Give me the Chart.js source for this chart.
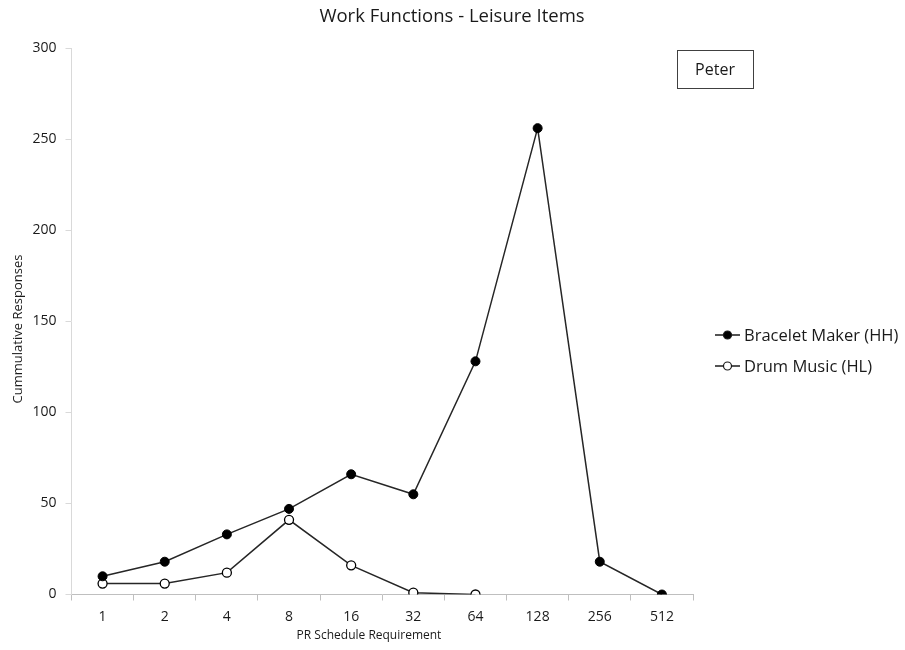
<!DOCTYPE html>
<html>
<head>
<meta charset="utf-8">
<script src="https://cdn.jsdelivr.net/npm/chart.js@4"></script>
<style>
  html, body { margin: 0; padding: 0; background: #fff; }
  #wrap { position: relative; width: 905px; height: 650px; }
</style>
</head>
<body>
<div id="wrap"><canvas id="chart" width="905" height="650"></canvas></div>
<script>
// ---- data ----
const schedule = ['1', '2', '4', '8', '16', '32', '64', '128', '256', '512'];
const braceletMaker = [10, 18, 33, 47, 66, 55, 128, 256, 18, 0];
const drumMusic = [6, 6, 12, 41, 16, 1, 0, null, null, null];
const yTicks = [0, 50, 100, 150, 200, 250, 300];

const FONT = "'Open Sans', sans-serif";
const INK = '#1a1a1a';

// title, axis titles, "Peter" box and marker legend drawn on the canvas
const extras = {
  id: 'extras',
  afterDraw(chart) {
    const c = chart.ctx;
    c.save();
    c.fillStyle = INK;
    c.textBaseline = 'middle';

    c.font = '18.5px ' + FONT;
    c.textAlign = 'center';
    c.fillText('Work Functions - Leisure Items', 452, 17);

    // axis titles (Excel centres these a bit off the plot centre)
    c.font = '12px ' + FONT;
    c.fillText('PR Schedule Requirement', 369, 636);
    c.save();
    c.translate(18, 329);
    c.rotate(-Math.PI / 2);
    c.font = '13px ' + FONT;
    c.fillText('Cummulative Responses', 0, 0);
    c.restore();

    // name box
    c.strokeStyle = '#404040';
    c.lineWidth = 1;
    c.strokeRect(677.5, 50.5, 76, 38);
    c.font = '16px ' + FONT;
    c.fillText('Peter', 715, 70);

    // legend
    const rows = [
      { label: 'Bracelet Maker (HH)', fill: '#000', y: 335 },
      { label: 'Drum Music (HL)', fill: '#fff', y: 366 }
    ];
    c.font = '16.5px ' + FONT;
    c.textAlign = 'left';
    rows.forEach(r => {
      c.strokeStyle = INK;
      c.lineWidth = 1.5;
      c.beginPath();
      c.moveTo(715, r.y); c.lineTo(740, r.y);
      c.stroke();
      c.beginPath();
      c.arc(727.5, r.y, 4, 0, Math.PI * 2);
      c.fillStyle = r.fill;
      c.fill();
      c.lineWidth = 1.2;
      c.stroke();
      c.fillStyle = INK;
      c.fillText(r.label, 744, r.y + 1);
    });
    c.restore();
  }
};

new Chart(document.getElementById('chart'), {
  type: 'line',
  data: {
    labels: schedule,
    datasets: [
      {
        label: 'Bracelet Maker (HH)',
        data: braceletMaker,
        borderColor: '#262626',
        borderWidth: 1.5,
        pointBackgroundColor: '#000',
        pointBorderColor: '#000',
        pointBorderWidth: 1,
        pointRadius: 4.5,
        tension: 0
      },
      {
        label: 'Drum Music (HL)',
        data: drumMusic,
        borderColor: '#262626',
        borderWidth: 1.5,
        pointBackgroundColor: '#fff',
        pointBorderColor: '#000',
        pointBorderWidth: 1.3,
        pointRadius: 4.5,
        tension: 0,
        spanGaps: false
      }
    ]
  },
  options: {
    responsive: false,
    animation: false,
    layout: { padding: { top: 48, right: 212, bottom: 0, left: 0 } },
    plugins: {
      legend: { display: false },
      title: { display: false },
      tooltip: { enabled: false }
    },
    scales: {
      x: {
        offset: true,
        afterFit: s => { s.height = 55.5; },
        grid: { offset: true, drawOnChartArea: false, drawTicks: true, tickLength: 6, color: '#bfbfbf' },
        border: { color: '#bfbfbf', width: 1 },
        ticks: { color: INK, font: { family: FONT, size: 14 }, padding: 8, maxRotation: 0 }
      },
      y: {
        min: 0,
        max: 300,
        afterFit: s => { s.width = 71.5; },
        afterBuildTicks: s => { s.ticks = yTicks.map(v => ({ value: v })); },
        grid: { drawOnChartArea: false, drawTicks: true, tickLength: 6, color: '#d9d9d9' },
        border: { color: '#d9d9d9', width: 1 },
        ticks: { color: INK, font: { family: FONT, size: 14 }, padding: 9 }
      }
    }
  },
  plugins: [extras]
});
</script>
</body>
</html>
